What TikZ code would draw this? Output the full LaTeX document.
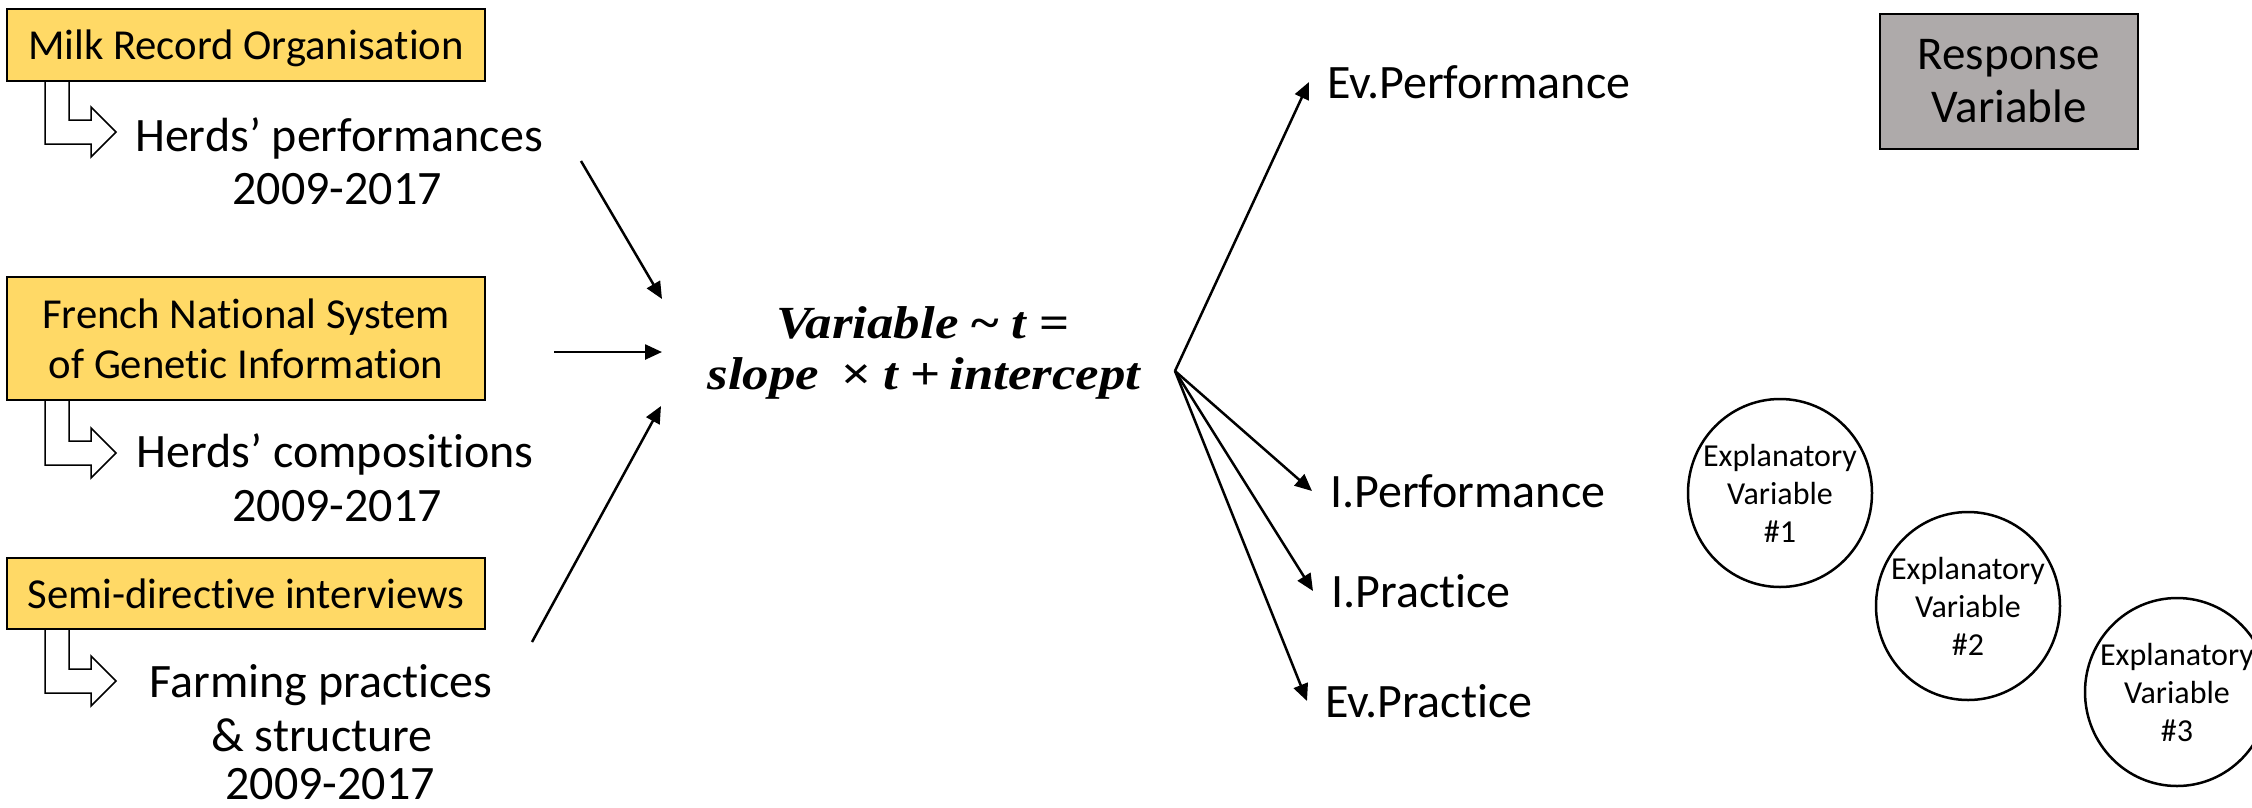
\documentclass[tikz,border=0pt]{standalone}
\usepackage{fontspec}
\setmainfont{Carlito}[Ligatures={NoCommon,NoRare,NoContextual}]
\newfontfamily\eqfont{Liberation Serif}[FakeStretch=1.15]
\usetikzlibrary{arrows.meta,shapes.geometric}
\definecolor{ygold}{HTML}{FFD966}
\definecolor{rgray}{HTML}{AEAAAA}
\begin{document}
\begin{tikzpicture}[x=1pt,y=-1pt,
  src/.style={draw=black, line width=1.5pt, fill=ygold, inner sep=0pt, minimum width=478pt, align=center, font=\fontsize{42.7}{50}\selectfont},
  txt/.style={anchor=base, inner sep=0pt, font=\fontsize{48}{53}\selectfont},
  outl/.style={anchor=west, inner xsep=18pt, inner ysep=0pt, font=\fontsize{48}{53}\selectfont},
  bent/.style={draw=black, line width=1.5pt, fill=white, line join=miter},
  conn/.style={line width=2.5pt, -{Triangle[length=17pt,width=15pt]}},
  eqs/.style={anchor=base, inner sep=0pt, font={\fontsize{46}{52}\eqfont\bfseries\itshape}},
  expl/.style={draw=black, line width=2.5pt, ellipse, minimum width=184pt, minimum height=188pt, inner xsep=-13pt, inner ysep=0pt, align=center, font=\fontsize{32}{38}\selectfont},
  resp/.style={draw=black, line width=1.5pt, fill=rgray, minimum width=258pt, minimum height=135pt, inner sep=0pt, align=center, font=\fontsize{47}{53}\selectfont}
]
\useasboundingbox (0,0) rectangle (2252,807);
\fill[white] (0,0) rectangle (2252,807);
\begin{scope}
\clip (0,0) rectangle (2252,807);

% source boxes
\node[src, minimum height=72pt, text depth=0pt] (mro) at (246,45) {Milk Record Organisation};
\node[src, minimum height=123pt] (fns) at (246,338.5) {French National System\\of Genetic Information};
\node[src, minimum height=71pt] (sdi) at (246,593.5) {Semi-directive interviews};

% bent arrows
\draw[bent] (45,81) -- (45,144) -- (91,144) -- (91,157) -- (116,132) -- (91,107) -- (91,120) -- (69,120) -- (69,81) -- cycle;
\draw[bent] (45,400) -- (45,465) -- (91,465) -- (91,478) -- (116,453) -- (91,428) -- (91,441) -- (69,441) -- (69,400) -- cycle;
\draw[bent] (45,629) -- (45,693) -- (91,693) -- (91,706) -- (116,681) -- (91,656) -- (91,669) -- (69,669) -- (69,629) -- cycle;

% data texts
\node[txt] (hp1) at (339,151) {Herds’ performances};
\node[txt] (hp2) at (337,204) {2009-2017};
\node[txt] (hc1) at (335,467) {Herds’ compositions};
\node[txt] (hc2) at (337,521) {2009-2017};
\node[txt] (fp1) at (321,697) {Farming practices};
\node[txt] (fp2) at (322,751) {\& structure};
\node[txt] (fp3) at (330,799) {2009-2017};

% equation
\node[eqs] (eqa) at (923,338) {Variable\hspace{13pt}{\upshape\textasciitilde}\hspace{13pt}t\hspace{13pt}{\upshape =}};
\node[eqs] (eqb) at (924,389) {slope\hspace{22pt}{\upshape ×}\hspace{12pt}t\hspace{12pt}{\upshape +}\hspace{9pt}intercept};

% incoming arrows
\coordinate (a1s) at (581,161); \coordinate (a1e) at (662,299);
\coordinate (a2s) at (554,352); \coordinate (a2e) at (662,352);
\coordinate (a3s) at (532,642); \coordinate (a3e) at (661,406);
\draw[conn] (a1s) -- (a1e);
\draw[conn] (a2s) -- (a2e);
\draw[conn] (a3s) -- (a3e);

% outputs
\coordinate (br) at (1175,371);
\node[outl] (evperf) at (1309,82) {Ev.Performance};
\node[outl] (iperf) at (1312,491) {I.Performance};
\node[outl] (iprac) at (1313,591) {I.Practice};
\node[outl] (evprac) at (1307,701) {Ev.Practice};
\draw[conn] (br) -- (evperf.west);
\draw[conn] (br) -- (iperf.west);
\draw[conn] (br) -- (iprac.west);
\draw[conn] (br) -- (evprac.west);

% legend
\node[resp] (resp) at (2009,81.5) {Response\\Variable};
\node[expl] (ex1) at (1780,493) {Explanatory\\Variable\\\#1};
\node[expl] (ex2) at (1968,606) {Explanatory\\Variable\\\#2};
\node[expl] (ex3) at (2177,692) {Explanatory\\Variable\\\#3};
\end{scope}
\end{tikzpicture}
\end{document}
